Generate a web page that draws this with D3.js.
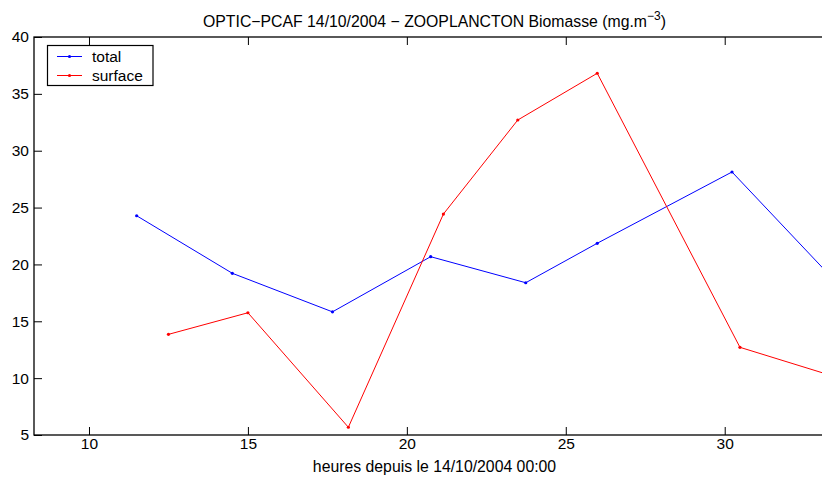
<!DOCTYPE html>
<html><head><meta charset="utf-8">
<script src="https://cdn.jsdelivr.net/npm/d3@7"></script>
<style>body{margin:0;background:#fff}svg{display:block;font-family:"Liberation Sans",Arial,sans-serif}</style>
</head><body>
<script>
const hoursTotal = [11.50, 14.51, 17.66, 20.75, 23.74, 25.99, 30.23, 33.50];
const valuesTotal = [24.28, 19.22, 15.83, 20.68, 18.39, 21.86, 28.13, 18.46];
const hoursSurface = [12.50, 15.00, 18.16, 21.15, 23.49, 25.99, 30.48, 34.00];
const valuesSurface = [13.85, 15.75, 5.68, 24.43, 32.70, 36.81, 12.71, 9.67];
const xTicks = [10, 15, 20, 25, 30];
const yTicks = [5, 10, 15, 20, 25, 30, 35, 40];
const seriesNames = ["total", "surface"];
const seriesColors = ["#0000ff", "#ff0000"];

(function () {
const W = 822, H = 479;
const mLeft = 34, mRight = 835, mTop = 37, mBottom = 435;
const svg = d3.select("body").append("svg").attr("width", W).attr("height", H);

const x = d3.scaleLinear().domain([8.27, 33.47]).range([mLeft, mRight]);
const y = d3.scaleLinear().domain([5, 40]).range([mBottom, mTop]);

svg.append("defs").append("clipPath").attr("id", "clip")
  .append("rect").attr("x", mLeft).attr("y", mTop).attr("width", mRight - mLeft).attr("height", mBottom - mTop);

const axG = svg.append("g");
const xb = axG.append("g").attr("transform", `translate(0,${mBottom})`)
  .call(d3.axisBottom(x).tickValues(xTicks).tickSize(-8).tickPadding(12).tickFormat(d3.format("d")))
  .call(g => g.select(".domain").remove());
axG.append("g").attr("transform", `translate(0,${mTop})`)
  .call(d3.axisTop(x).tickValues(xTicks).tickSize(-8).tickFormat(""))
  .call(g => g.select(".domain").remove());
axG.append("g").attr("transform", `translate(${mLeft},0)`)
  .call(d3.axisLeft(y).tickValues(yTicks).tickSize(-8).tickPadding(5).tickFormat(d3.format("d")))
  .call(g => g.select(".domain").remove());
axG.append("g").attr("transform", `translate(${mRight},0)`)
  .call(d3.axisRight(y).tickValues(yTicks).tickSize(-8).tickFormat(""))
  .call(g => g.select(".domain").remove());
axG.selectAll("text").attr("font-size", 15.5).attr("fill", "#000").attr("font-family", "Liberation Sans, Arial, sans-serif");
axG.selectAll(".tick line").attr("stroke", "#000");
xb.selectAll(".tick text").attr("dy", "0.15em");
axG.append("rect").attr("x", mLeft).attr("y", mTop).attr("width", mRight - mLeft).attr("height", mBottom - mTop)
  .attr("fill", "none").attr("stroke", "#000").attr("stroke-width", 1.3);

const series = [
  {xs: hoursTotal, ys: valuesTotal},
  {xs: hoursSurface, ys: valuesSurface}
];
const plot = svg.append("g").attr("clip-path", "url(#clip)");
const line = d3.line().x(d => x(d[0])).y(d => y(d[1]));
series.forEach((s, i) => {
  const pts = s.xs.map((h, j) => [h, s.ys[j]]);
  plot.append("path").datum(pts).attr("d", line).attr("fill", "none")
    .attr("stroke", seriesColors[i]).attr("stroke-width", 1);
  plot.selectAll(null).data(pts).enter().append("circle")
    .attr("cx", d => x(d[0])).attr("cy", d => y(d[1])).attr("r", 1.6).attr("fill", seriesColors[i]);
});

const lg = svg.append("g");
lg.append("rect").attr("x", 47.5).attr("y", 45.5).attr("width", 105.5).attr("height", 40)
  .attr("fill", "#fff").attr("stroke", "#000").attr("stroke-width", 1.2);
seriesNames.forEach((n, i) => {
  const yy = 56.5 + i * 19;
  lg.append("line").attr("x1", 57).attr("x2", 82).attr("y1", yy).attr("y2", yy)
    .attr("stroke", seriesColors[i]).attr("stroke-width", 1);
  lg.append("circle").attr("cx", 69.5).attr("cy", yy).attr("r", 1.6).attr("fill", seriesColors[i]);
  lg.append("text").attr("x", 92).attr("y", yy + 5.5).attr("font-size", 15.5).text(n);
});

const t = svg.append("text").attr("x", (mLeft + mRight) / 2).attr("y", 26.5).attr("text-anchor", "middle").attr("font-size", 15.8);
t.append("tspan").text("OPTIC\u2212PCAF 14/10/2004 \u2212 ZOOPLANCTON Biomasse (mg.m");
t.append("tspan").attr("dy", -7).attr("font-size", 12).text("\u22123");
t.append("tspan").attr("dy", 7).text(")");

svg.append("text").attr("x", (mLeft + mRight) / 2).attr("y", 472).attr("text-anchor", "middle")
  .attr("font-size", 15.8).text("heures depuis le 14/10/2004 00:00");
})();
</script>
</body></html>
